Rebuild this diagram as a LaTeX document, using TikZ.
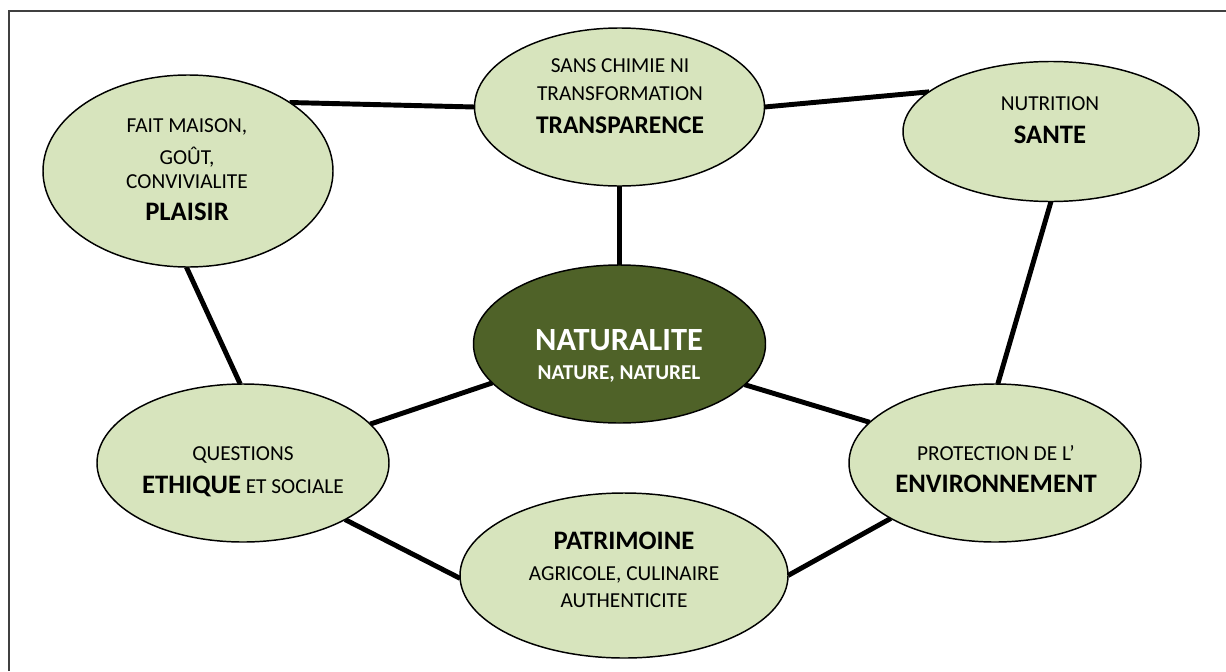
\documentclass[tikz,border=0pt]{standalone}
\usepackage{fontspec}
\setmainfont{Carlito}
\usetikzlibrary{shapes.geometric,backgrounds}
\definecolor{lightg}{HTML}{D7E4BD}
\definecolor{darkg}{HTML}{4F6228}
\newcommand\bigb{\fontsize{20}{21}\selectfont\bfseries}
\newcommand\midb{\fontsize{19.1}{21}\selectfont\bfseries}
\newcommand\hugeb{\fontsize{24.3}{21}\selectfont\bfseries}
\newcommand\subb{\fontsize{15.9}{21}\selectfont\bfseries}
\tikzset{
  bub/.style={ellipse, draw=black, line width=1.1pt, fill=lightg, inner sep=0pt, outer sep=0pt},
  darkbub/.style={bub, fill=darkg},
  txt/.style={align=center, font=\fontsize{16}{21}\selectfont, inner sep=0pt, outer sep=0pt, anchor=base},
  link/.style={line width=3.7pt, draw=black},
  framel/.style={draw=black!75, line width=0.9pt}
}
\begin{document}
\begin{tikzpicture}[x=0.75pt,y=-0.75pt]
\useasboundingbox (0,0) rectangle (1226,671);
\draw[framel] (9,671) -- (9,11) -- (1226,11);

% ellipses
\node[bub, minimum width=217.5pt, minimum height=144pt] (plaisir) at (188,171) {};
\node[bub, minimum width=217.5pt, minimum height=118.5pt] (transp) at (619.5,107) {};
\node[bub, minimum width=222pt, minimum height=105pt] (sante) at (1051,131.5) {};
\node[darkbub, minimum width=219pt, minimum height=118.5pt] (natur) at (619.5,344) {};
\node[bub, minimum width=219pt, minimum height=118.5pt] (ethique) at (243,463) {};
\node[bub, minimum width=219pt, minimum height=118.5pt] (env) at (995,463) {};
\node[bub, minimum width=246pt, minimum height=123.75pt] (patri) at (624,575.5) {};

% connectors
\begin{pgfonlayer}{background}
\draw[link] (plaisir.34) -- (transp.180);
\draw[link] (transp.0) -- (sante.162.8);
\draw[link] (transp.south) -- (natur.north);
\draw[link] (sante.270) -- (env.88);
\draw[link] (plaisir.269) -- (ethique.92);
\draw[link] (ethique.17.9) -- (natur.197.9);
\draw[link] (natur.342.9) -- (env.162.5);
\draw[link] (ethique.331.7) -- (patri.181);
\draw[link] (patri.0) -- (env.208.8);
\end{pgfonlayer}

% texts (anchored at the baseline of the last line)
\node[txt] (tplaisir) at (187,220) {FAIT MAISON,\\[2.8pt] GOÛT,\\[-2.8pt] CONVIVIALITE\\[2.8pt] {\bigb PLAISIR}};
\node[txt] (ttransp) at (620,133) {SANS CHIMIE NI\\ TRANSFORMATION\\[3.4pt] {\midb TRANSPARENCE}};
\node[txt] (tsante) at (1050,143) {NUTRITION\\[3.75pt] {\bigb SANTE}};
\node[txt, text=white] (tnatur) at (619,379.5) {{\hugeb NATURALITE}\\[1.1pt] {\subb NATURE, NATUREL}};
\node[txt] (tethique) at (243,493) {QUESTIONS\\[3.75pt] {\bigb ETHIQUE} ET SOCIALE};
\node[txt] (tenv) at (996,492) {PROTECTION DE L’\\[3pt] {\bigb ENVIRONNEMENT}};
\node[txt] (tpatri) at (624,607.5) {{\bigb PATRIMOINE}\\[2pt] AGRICOLE, CULINAIRE\\[-0.75pt] AUTHENTICITE};
\end{tikzpicture}
\end{document}
